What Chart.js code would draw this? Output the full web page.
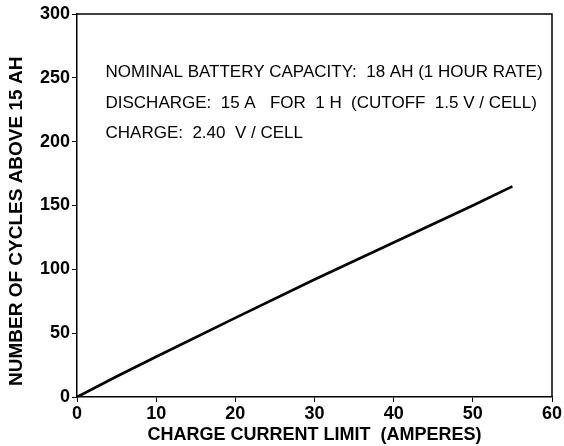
<!DOCTYPE html>
<html>
<head>
<meta charset="utf-8">
<script src="https://cdn.jsdelivr.net/npm/chart.js@4/dist/chart.umd.min.js"></script>
<style>
  html, body { margin: 0; padding: 0; background: #fff; }
  #wrap { width: 564px; height: 446px; }
</style>
</head>
<body>
<div id="wrap"><canvas id="cycleChart" width="564" height="446"></canvas></div>
<script>
const chargeCurrent = [0, 5, 10, 20, 30, 40, 50, 55];
const cyclesAbove15Ah = [0, 16, 31.5, 62, 92, 121, 150, 165];
const notes = [
  "NOMINAL BATTERY CAPACITY:  18 AH (1 HOUR RATE)",
  "DISCHARGE:  15 A   FOR  1 H  (CUTOFF  1.5 V / CELL)",
  "CHARGE:  2.40  V / CELL",
];
const noteYs = [254.5, 230, 206.5];

const fontFamily = "'Liberation Sans', Arial, sans-serif";

// frame on top/right + notes text inside the plot
const extras = {
  id: "extras",
  afterDraw(chart) {
    const { ctx, chartArea, scales } = chart;
    ctx.save();
    ctx.strokeStyle = "#000";
    ctx.lineWidth = 1.5;
    ctx.beginPath();
    ctx.moveTo(chartArea.left, chartArea.top);
    ctx.lineTo(chartArea.right, chartArea.top);
    ctx.lineTo(chartArea.right, chartArea.bottom);
    ctx.stroke();

    ctx.fillStyle = "#000";
    ctx.font = "17px " + fontFamily;
    ctx.textBaseline = "middle";
    notes.forEach((text, i) => {
      const x = scales.x.getPixelForValue(3.6);
      const y = scales.y.getPixelForValue(noteYs[i]);
      ctx.fillText(text, x, y);
    });
    ctx.restore();
  },
};

const ctx = document.getElementById("cycleChart").getContext("2d");
new Chart(ctx, {
  type: "scatter",
  data: {
    datasets: [
      {
        data: chargeCurrent.map((x, i) => ({ x: x, y: cyclesAbove15Ah[i] })),
        showLine: true,
        borderColor: "#000",
        borderWidth: 2.7,
        pointRadius: 0,
        tension: 0,
      },
    ],
  },
  options: {
    responsive: false,
    animation: false,
    layout: { padding: { top: 14, right: 12, left: 0, bottom: 0 } },
    plugins: { legend: { display: false }, tooltip: { enabled: false } },
    scales: {
      x: {
        type: "linear",
        min: 0,
        max: 60,
        ticks: { stepSize: 10, color: "#000", font: { family: fontFamily, size: 18, weight: "bold" }, padding: 1 },
        grid: { drawOnChartArea: false, drawTicks: true, tickLength: 5, color: "#000" },
        border: { display: true, color: "#000", width: 1.5 },
        title: {
          display: true,
          text: "CHARGE CURRENT LIMIT  (AMPERES)",
          color: "#000",
          font: { family: fontFamily, size: 18, weight: "bold" },
          padding: { top: 0, bottom: 0 },
        },
        afterFit(scale) { scale.height = 49; },
      },
      y: {
        min: 0,
        max: 300,
        ticks: { stepSize: 50, color: "#000", font: { family: fontFamily, size: 18, weight: "bold" }, padding: 2 },
        grid: { drawOnChartArea: false, drawTicks: true, tickLength: 5, color: "#000" },
        border: { display: true, color: "#000", width: 1.5 },
        title: {
          display: true,
          // trailing spaces nudge the rotated title down like the original
          text: "NUMBER OF CYCLES ABOVE 15 AH      ",
          color: "#000",
          font: { family: fontFamily, size: 19, weight: "bold" },
          padding: { top: 5, bottom: 3 },
        },
        afterFit(scale) { scale.width = 77; },
      },
    },
  },
  plugins: [extras],
});
</script>
</body>
</html>
